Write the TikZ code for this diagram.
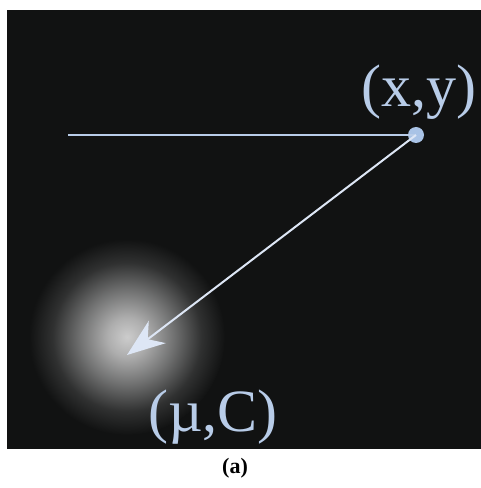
\documentclass[tikz,border=0pt]{standalone}
\usepackage{fontspec}
\setmainfont{Liberation Serif}
\usetikzlibrary{arrows.meta}
\definecolor{bgc}{HTML}{111212}
\definecolor{lblue}{HTML}{B8CCE8}
\definecolor{arrowc}{HTML}{DDE6F5}
\definecolor{dotc}{HTML}{A9C3E6}
\pgfdeclareradialshading{glow}{\pgfpoint{0bp}{0bp}}{%
  color(0bp)=(white!80!black);
  color(5bp)=(white!68!black);
  color(12bp)=(white!40!bgc);
  color(19bp)=(white!13!bgc);
  color(25bp)=(bgc);
  color(50bp)=(bgc)}
\begin{document}
\begin{tikzpicture}[x=1pt,y=1pt,
  lab/.style={text=lblue, font=\fontsize{60}{60}\selectfont, inner sep=0pt}]
\useasboundingbox (0,0) rectangle (481,488);
\fill[white] (0,0) rectangle (481,488);
\fill[bgc] (7,39) rectangle (481,478);
\begin{scope}
  \clip (7,39) rectangle (481,478);
  \shade[shading=glow] (127,151) circle (98);
\end{scope}
\coordinate (start) at (68,353);
\node[circle, fill=dotc, minimum size=16pt, inner sep=0pt] (xy) at (416,353) {};
\coordinate (tip) at (127,133);
\draw[lblue, line width=1.3pt] (start) -- (xy.center);
\draw[arrowc, line width=2pt, -{Stealth[length=38pt, width=28pt, inset=12pt]}] (xy.center) -- (tip);
\node[lab] (xylab) at (419,396) {(x,y)};
\node[lab] (mulab) at (213,71) {(\textmu,C)};
\node[font=\fontsize{22}{22}\selectfont\bfseries, inner sep=0pt] (cap) at (235,20) {(a)};
\end{tikzpicture}
\end{document}
